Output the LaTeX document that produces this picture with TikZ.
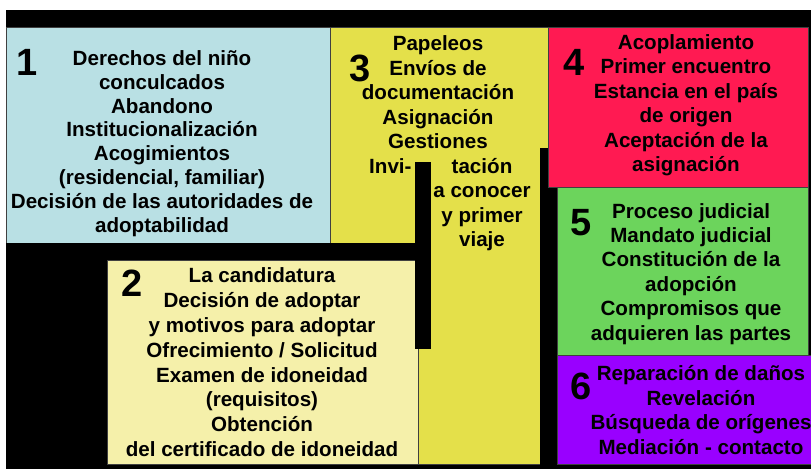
\documentclass[tikz,border=0pt]{standalone}
\usepackage{fontspec}
\setmainfont{Liberation Sans}
\usetikzlibrary{positioning}
\definecolor{boxblue}{RGB}{185,224,228}
\definecolor{boxyellow}{RGB}{228,224,74}
\definecolor{boxpale}{RGB}{245,240,170}
\definecolor{boxred}{RGB}{255,26,82}
\definecolor{boxgreen}{RGB}{108,212,92}
\definecolor{boxpurple}{RGB}{153,0,255}

\begin{document}
\begin{tikzpicture}[
    x=1pt, y=-1pt,
    panel/.style={draw=black!75, line width=0.8pt},
    num/.style={font=\fontsize{38}{38}\selectfont\bfseries, inner sep=0pt},
    txt/.style={font=\fontsize{20.6}{24.4}\selectfont\bfseries, align=center, inner sep=0pt, anchor=base}
]
    \useasboundingbox (0,0) rectangle (811,474);

    % Black background and separators
    \fill[black] (6,10) rectangle (811,469);

    % Stage panels
    \filldraw[panel, fill=boxyellow] (330,27) rectangle (548,464);
    \filldraw[panel, fill=boxblue] (6,27) rectangle (330,243);
    \fill[black] (6,243) rectangle (431,260);
    \filldraw[panel, fill=boxpale] (107,260) rectangle (418,464);
    \fill[black] (415,162) rectangle (431,349);
    \fill[black] (540,148) rectangle (557,469);
    \filldraw[panel, fill=boxred] (548,27) rectangle (808,187);
    \filldraw[panel, fill=boxgreen] (557,187) rectangle (808,355);
    \filldraw[panel, fill=boxpurple] (557,355) rectangle (815,464);

    % Stage numbers
    \node[num] (n1) at (27,62) {1};
    \node[num] (n2) at (132,283) {2};
    \node[num] (n3) at (360,68) {3};
    \node[num] (n4) at (574,62) {4};
    \node[num] (n5) at (581,223) {5};
    \node[num] (n6) at (581,386) {6};

    % Stage texts (base = last line)
    \node[txt, font=\fontsize{20.6}{23.8}\selectfont\bfseries] (t1) at (162,232) {Derechos del niño\\conculcados\\Abandono\\Institucionalización\\Acogimientos\\(residencial, familiar)\\Decisión de las autoridades de\\adoptabilidad};
    \node[txt, font=\fontsize{20.6}{24.8}\selectfont\bfseries] (t2) at (262,456.5) {La candidatura\\Decisión de adoptar\\y motivos para adoptar\\Ofrecimiento / Solicitud\\Examen de idoneidad\\(requisitos)\\Obtención\\del certificado de idoneidad};
    \node[txt, font=\fontsize{20.6}{24.5}\selectfont\bfseries] (t3) at (438,148.5) {Papeleos\\Envíos de\\documentación\\Asignación\\Gestiones};
    \node[txt, anchor=base west] (t3l) at (369,173) {Invi-};
    \node[txt, font=\fontsize{20.6}{24.5}\selectfont\bfseries] (t3r) at (482,246.5) {tación\\a conocer\\y primer\\viaje};
    \node[txt] (t4) at (686,171.5) {Acoplamiento\\Primer encuentro\\Estancia en el país\\de origen\\Aceptación de la\\asignación};
    \node[txt] (t5) at (691,340) {Proceso judicial\\Mandato judicial\\Constitución de la\\adopción\\Compromisos que\\adquieren las partes};
    \node[txt] (t6) at (701,454) {Reparación de daños\\Revelación\\Búsqueda de orígenes\\Mediación - contacto};
\end{tikzpicture}
\end{document}
